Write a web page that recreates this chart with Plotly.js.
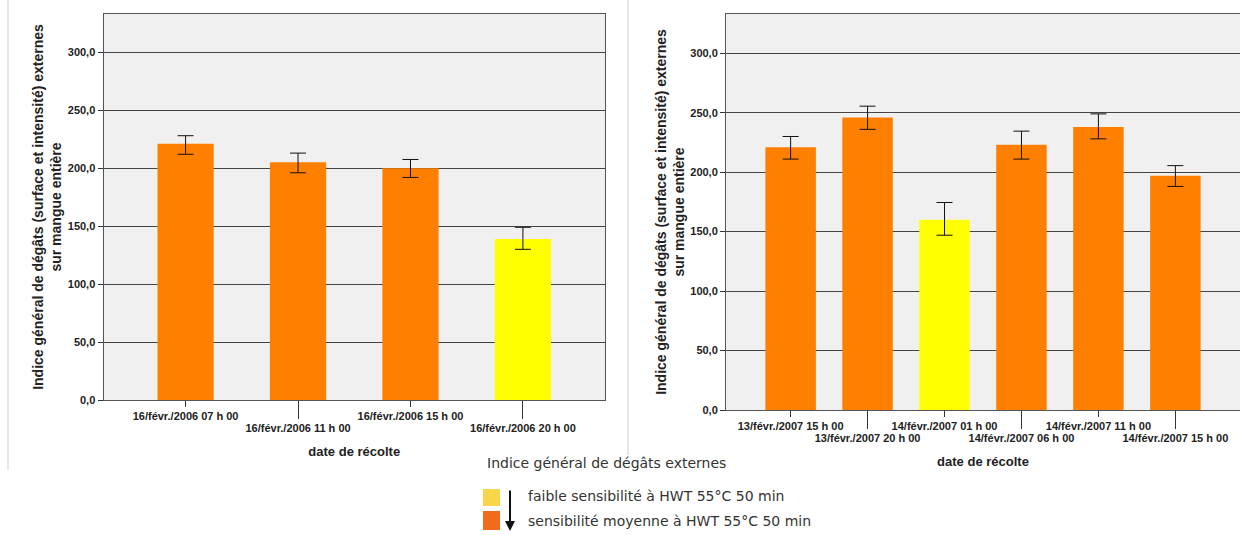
<!DOCTYPE html>
<html><head><meta charset="utf-8">
<script src="https://cdn.plot.ly/plotly-3.0.1.min.js"></script>
<style>html,body{margin:0;padding:0;background:#fff}#chart{width:1240px;height:535px}</style>
</head><body><div id="chart"></div>
<script>
// ---- data ----
const leftDates = ['16/févr./2006 07 h 00','16/févr./2006 11 h 00','16/févr./2006 15 h 00','16/févr./2006 20 h 00'];
const leftValues = [221, 205, 200, 139];
const leftUpper  = [228, 213, 207.5, 149];
const leftLower  = [212, 196, 192, 130];
const leftGroup  = ['moyenne','moyenne','moyenne','faible'];

const rightDates = ['13/févr./2007 15 h 00','13/févr./2007 20 h 00','14/févr./2007 01 h 00','14/févr./2007 06 h 00','14/févr./2007 11 h 00','14/févr./2007 15 h 00'];
const rightValues = [221, 246, 160, 223, 238, 197];
const rightUpper  = [230, 255.5, 174.5, 234.5, 249, 205.5];
const rightLower  = [211, 236, 147, 211, 228, 188];
const rightGroup  = ['moyenne','moyenne','faible','moyenne','moyenne','moyenne'];

const yTickVals = [0, 50, 100, 150, 200, 250, 300];
const yTitle = 'Indice général de dégâts (surface et intensité) externes<br>sur mangue entière';
const xTitle = 'date de récolte';
const legendTitle = 'Indice général de dégâts externes';
const legendLabels = {faible: 'faible sensibilité à HWT 55°C 50 min', moyenne: 'sensibilité moyenne à HWT 55°C 50 min'};

// ---- styles ----
const barColors = {faible: '#ffff00', moyenne: '#ff7f00'};
const legendColors = {faible: '#f7d64a', moyenne: '#f26b1d'};
const W = 1240, H = 535;
const px = x => x / W, py = y => 1 - y / H;
const FAM = 'Liberation Sans, Arial, sans-serif';
const tickFont = {family: FAM, size: 11, color: '#222', weight: 'bold'};

function barTrace(dates, vals, up, lo, grp, xa, ya, width) {
  const idx = dates.map((d, i) => i);
  return {
    type: 'bar', x: idx, y: vals, xaxis: xa, yaxis: ya, width: width,
    marker: {color: grp.map(g => barColors[g]), line: {width: 0}},
    error_y: {type: 'data', symmetric: false,
      array: vals.map((v, i) => up[i] - v), arrayminus: vals.map((v, i) => v - lo[i]),
      color: '#111', thickness: 1, width: 8},
    hoverinfo: 'skip', showlegend: false
  };
}
// invisible carrier trace so the staggered (odd) label axis is drawn
function carrier(dates, vals, xa, ya) {
  return {type: 'scatter', mode: 'markers', x: dates.map((d, i) => i), y: vals, xaxis: xa, yaxis: ya,
    marker: {opacity: 0, size: 1}, hoverinfo: 'skip', showlegend: false};
}

const traces = [
  barTrace(leftDates, leftValues, leftUpper, leftLower, leftGroup, 'x', 'y', 0.5),
  barTrace(rightDates, rightValues, rightUpper, rightLower, rightGroup, 'x2', 'y2', 0.656),
  carrier(leftDates, leftValues, 'x3', 'y'),
  carrier(rightDates, rightValues, 'x4', 'y2')
];

function yAxis(domain, anchor) {
  return {domain: domain, anchor: anchor, range: [0, 333], tickvals: yTickVals,
    tickformat: '.1f', ticks: 'outside', ticklen: 5, tickcolor: '#333',
    showgrid: true, gridcolor: '#444', gridwidth: 1, zeroline: false,
    showline: true, linecolor: '#555', linewidth: 1, mirror: true,
    tickfont: tickFont, fixedrange: true,
    title: {text: yTitle, font: {family: FAM, size: 14, color: '#222', weight: 'bold'}, standoff: 2}};
}
function xMain(domain, anchor, dates, range) {
  const even = dates.map((d, i) => i).filter(i => i % 2 === 0);
  return {domain: domain, anchor: anchor, range: range, tickvals: even,
    ticktext: even.map(i => dates[i]), ticks: 'outside', ticklen: 6, tickcolor: '#333',
    showgrid: false, zeroline: false, showline: true, linecolor: '#555', mirror: true,
    tickfont: tickFont, fixedrange: true};
}
function xOdd(overlay, anchor, dates, range) {
  const odd = dates.map((d, i) => i).filter(i => i % 2 === 1);
  return {overlaying: overlay, anchor: anchor, side: 'bottom', range: range, tickvals: odd,
    ticktext: odd.map(i => dates[i]), ticks: 'outside', ticklen: 18, tickcolor: '#333',
    showgrid: false, zeroline: false, showline: false,
    tickfont: tickFont, fixedrange: true,
    title: {text: xTitle, font: {family: FAM, size: 13, color: '#222', weight: 'bold'}, standoff: 13}};
}

const lRange = [-0.73, leftDates.length - 1 + 0.73];
const rRange = [-0.84, rightDates.length - 1 + 0.84];

const legendFont = {family: 'DejaVu Sans, Verdana, sans-serif', size: 14, color: '#333'};
const layout = {
  width: W, height: H, margin: {l: 0, r: 0, t: 0, b: 0},
  paper_bgcolor: '#fff', plot_bgcolor: '#f0f0f0', showlegend: false,
  separators: ',.',
  xaxis: xMain([px(103.5), px(605)], 'y', leftDates, lRange),
  yaxis: yAxis([py(400), py(14)], 'x'),
  xaxis3: xOdd('x', 'y', leftDates, lRange),
  xaxis2: xMain([px(726), 1], 'y2', rightDates, rRange),
  yaxis2: yAxis([py(410), py(14)], 'x2'),
  xaxis4: xOdd('x2', 'y2', rightDates, rRange),
  shapes: [
    {type: 'line', xref: 'paper', yref: 'paper', x0: px(8), x1: px(8), y0: py(0), y1: py(470), line: {color: '#cfcfcf', width: 1}},
    {type: 'line', xref: 'paper', yref: 'paper', x0: px(628), x1: px(628), y0: py(0), y1: py(455), line: {color: '#cfcfcf', width: 1}},
    {type: 'rect', xref: 'paper', yref: 'paper', x0: px(483), x1: px(500), y0: py(489), y1: py(506), fillcolor: legendColors.faible, line: {width: 0}},
    {type: 'rect', xref: 'paper', yref: 'paper', x0: px(483), x1: px(500), y0: py(511), y1: py(530), fillcolor: legendColors.moyenne, line: {width: 0}}
  ],
  annotations: [
    {xref: 'paper', yref: 'paper', x: px(485), y: py(463), xanchor: 'left', yanchor: 'middle', text: legendTitle, showarrow: false, font: legendFont},
    {xref: 'paper', yref: 'paper', x: px(526), y: py(496), xanchor: 'left', yanchor: 'middle', text: legendLabels.faible, showarrow: false, font: legendFont},
    {xref: 'paper', yref: 'paper', x: px(526), y: py(521), xanchor: 'left', yanchor: 'middle', text: legendLabels.moyenne, showarrow: false, font: legendFont},
    {xref: 'paper', yref: 'paper', x: px(510), y: py(531), text: '', showarrow: true, ax: 0, ay: -42, arrowhead: 2, arrowsize: 1, arrowwidth: 2, arrowcolor: '#111', standoff: 0}
  ]
};

Plotly.newPlot('chart', traces, layout, {staticPlot: true, displayModeBar: false});
</script></body></html>
